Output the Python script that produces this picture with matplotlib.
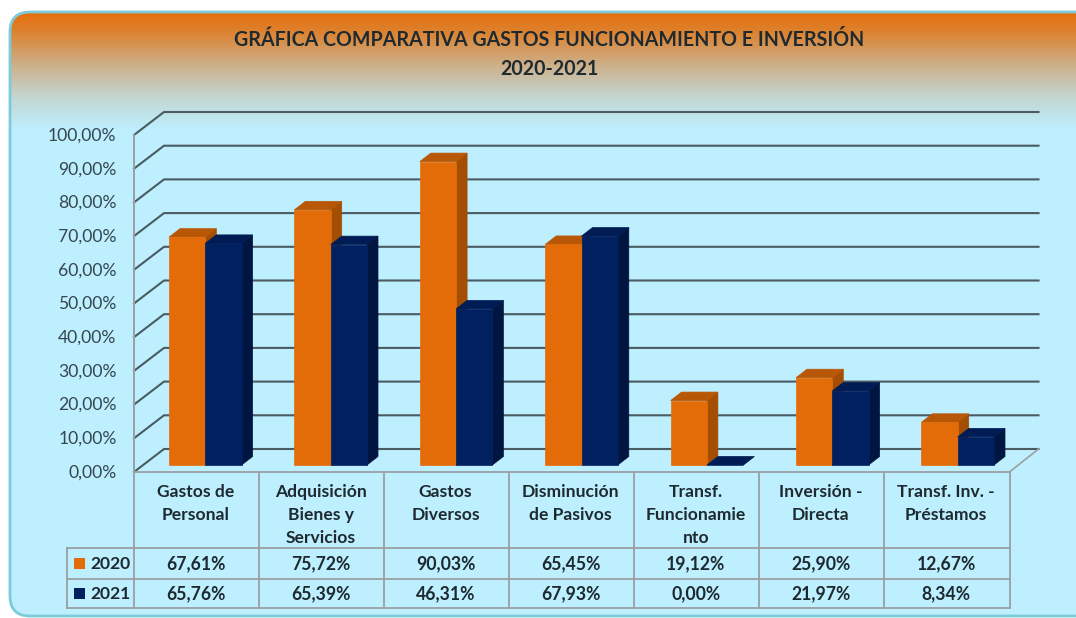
"""Comparative 3D-style column chart with data table."""

import matplotlib

matplotlib.use("Agg")

import matplotlib.pyplot as plt
import numpy as np
from matplotlib.colors import LinearSegmentedColormap
from matplotlib.patches import FancyBboxPatch, Polygon, Rectangle

plt.rcParams["font.family"] = ["Lato", "DejaVu Sans"]

categories = [
    "Gastos de\nPersonal",
    "Adquisición\nBienes y\nServicios",
    "Gastos\nDiversos",
    "Disminución\nde Pasivos",
    "Transf.\nFuncionamie\nnto",
    "Inversión -\nDirecta",
    "Transf. Inv. -\nPréstamos",
]
values_2020 = [67.61, 75.72, 90.03, 65.45, 19.12, 25.90, 12.67]
values_2021 = [65.76, 65.39, 46.31, 67.93, 0.00, 21.97, 8.34]
labels_2020 = ["67,61%", "75,72%", "90,03%", "65,45%", "19,12%", "25,90%", "12,67%"]
labels_2021 = ["65,76%", "65,39%", "46,31%", "67,93%", "0,00%", "21,97%", "8,34%"]
ticks = [0, 10, 20, 30, 40, 50, 60, 70, 80, 90, 100]
title_lines = ["GRÁFICA COMPARATIVA GASTOS FUNCIONAMIENTO E INVERSIÓN", "2020-2021"]

BG = "#BDEFFF"
ORANGE = ("#E36C09", "#B85706", "#A44E04")
NAVY = ("#002060", "#001C54", "#00153F")
TEXT = "#1E2A30"
LINE = "#9A9FA2"
GRID = "#4A5B62"

LEFT, RIGHT = 134, 1009.5
FLOOR, UNIT = 472, 3.37
DX, DY = 30, 23
CAT_W = (RIGHT - LEFT) / len(categories)
BAR_W, BAR_START, BAR_STEP = 36.3, 169, 125.4
BAR_BASE, BAR_DX, BAR_DY = 465, 11, 8.5
ROWS = [548, 578.5, 608]
LEGEND_X = 67


def draw_bar(ax, x0, value, colors):
    x1 = x0 + BAR_W
    top = BAR_BASE - value * UNIT
    front, upper, side = colors
    ax.add_patch(Polygon([(x1, BAR_BASE), (x1 + BAR_DX, BAR_BASE - BAR_DY),
                          (x1 + BAR_DX, top - BAR_DY), (x1, top)],
                         fc=side, ec=side, lw=0.5, zorder=4))
    ax.add_patch(Polygon([(x0, top), (x0 + BAR_DX, top - BAR_DY),
                          (x1 + BAR_DX, top - BAR_DY), (x1, top)],
                         fc=upper, ec=upper, lw=0.5, zorder=4))
    ax.add_patch(Rectangle((x0, top), BAR_W, BAR_BASE - top,
                           fc=front, ec=front, lw=0.5, zorder=4))


fig = plt.figure(figsize=(10.76, 6.18), dpi=100, facecolor="white")
ax = fig.add_axes([0, 0, 1, 1])
ax.set_xlim(0, 1076)
ax.set_ylim(618, 0)
ax.axis("off")

# rounded panel with orange fade at the top
panel = FancyBboxPatch((10, 12), 1100, 604, boxstyle="round,pad=0,rounding_size=20",
                       fc=BG, ec="none", zorder=1)
ax.add_patch(panel)
cmap = LinearSegmentedColormap.from_list(
    "fade", [(0, "#E66F0A"), (0.18, "#DC8433"), (0.45, "#CDB08A"), (0.72, "#C4D6D0"), (1, BG)]
)
fade = ax.imshow(np.linspace(0, 1, 200).reshape(-1, 1), cmap=cmap, aspect="auto",
                 extent=(10, 1076, 130, 12), zorder=1.5)
fade.set_clip_path(panel)
ax.add_patch(FancyBboxPatch((10, 12), 1100, 604, boxstyle="round,pad=0,rounding_size=20",
                            fc="none", ec="#7CCBDB", lw=2, zorder=1.6))
ax.set_xlim(0, 1076)
ax.set_ylim(618, 0)

ax.text(549.5, 40.5, title_lines[0], ha="center", va="center", fontsize=14.1, fontweight="bold",
        color=TEXT, zorder=6)
ax.text(549, 69, title_lines[1], ha="center", va="center", fontsize=14.1, fontweight="bold",
        color=TEXT, zorder=6)

# walls and gridlines
for t in ticks:
    y = FLOOR - t * UNIT
    ax.plot([LEFT, LEFT + DX, RIGHT + DX - 1], [y, y - DY, y - DY], color=GRID, lw=1.5,
            solid_joinstyle="miter", zorder=2)
    ax.text(116.5, y + 0.5, f"{t},00%", ha="right", va="center", fontsize=12.6,
            color="#36464D", zorder=6)
ax.plot([RIGHT, RIGHT + DX - 1], [FLOOR, FLOOR - DY], color=LINE, lw=1.2, zorder=2.5)
ax.plot([LEFT, LEFT], [FLOOR - 100 * UNIT, FLOOR], color=LINE, lw=1.4, zorder=3)

# columns
for i, (v20, v21) in enumerate(zip(values_2020, values_2021)):
    x0 = BAR_START + i * BAR_STEP
    draw_bar(ax, x0, v20, ORANGE)
    draw_bar(ax, x0 + BAR_W, v21, NAVY)

# data table
ax.plot([LEFT, RIGHT], [FLOOR, FLOOR], color=LINE, lw=1.3, zorder=5)
for y in ROWS:
    ax.plot([LEGEND_X, RIGHT], [y, y], color=LINE, lw=1.3, zorder=5)
ax.plot([LEGEND_X, LEGEND_X], [ROWS[0], ROWS[2]], color=LINE, lw=1.3, zorder=5)
for i in range(len(categories) + 1):
    x = LEFT + i * CAT_W
    ax.plot([x, x], [FLOOR, ROWS[2]], color=LINE, lw=1.3, zorder=5)

for i, name in enumerate(categories):
    xc = LEFT + (i + 0.5) * CAT_W - 1
    for j, part in enumerate(name.split("\n")):
        ax.text(xc, 492 + j * 23, part, ha="center", va="center", fontsize=12.6,
                fontweight="bold", color=TEXT, zorder=6)
    ax.text(xc, (ROWS[0] + ROWS[1]) / 2 + 1, labels_2020[i], ha="center", va="center",
            fontsize=12.7, fontweight="bold", color=TEXT, zorder=6)
    ax.text(xc, (ROWS[1] + ROWS[2]) / 2 + 1, labels_2021[i], ha="center", va="center",
            fontsize=12.7, fontweight="bold", color=TEXT, zorder=6)

for row, year, color in [(0, "2020", ORANGE[0]), (1, "2021", NAVY[0])]:
    yc = (ROWS[row] + ROWS[row + 1]) / 2
    ax.add_patch(Rectangle((74, yc - 5), 11, 11, fc=color, ec="none", zorder=6))
    ax.text(90, yc + 1, year, ha="left", va="center", fontsize=12.6, fontweight="bold",
            color=TEXT, zorder=6)

fig.savefig("out.png", dpi=100)
plt.close(fig)
